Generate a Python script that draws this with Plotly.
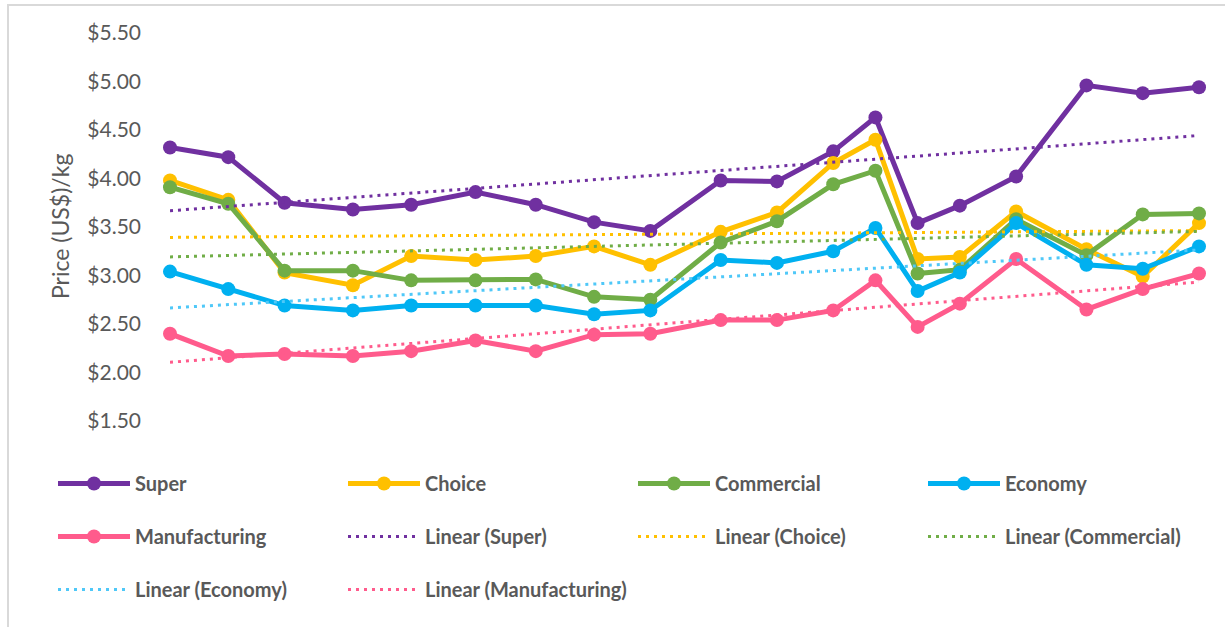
import numpy as np
import plotly.graph_objects as go

# ---- data ----
day_index = [0, 29, 57, 91, 120, 152, 182, 211, 239, 274, 302, 330, 351, 372, 393, 421, 456, 484, 512]
super_price = [4.32, 4.22, 3.75, 3.68, 3.73, 3.86, 3.73, 3.55, 3.46, 3.98, 3.97, 4.28, 4.63, 3.54, 3.72, 4.02, 4.96, 4.88, 4.94]
choice_price = [3.98, 3.78, 3.03, 2.90, 3.20, 3.16, 3.20, 3.30, 3.11, 3.45, 3.65, 4.16, 4.40, 3.17, 3.19, 3.66, 3.27, 2.99, 3.54]
commercial_price = [3.91, 3.74, 3.05, 3.05, 2.95, 2.95, 2.96, 2.78, 2.75, 3.34, 3.56, 3.94, 4.08, 3.02, 3.06, 3.58, 3.21, 3.63, 3.64]
economy_price = [3.04, 2.86, 2.69, 2.64, 2.69, 2.69, 2.69, 2.60, 2.64, 3.16, 3.13, 3.25, 3.49, 2.84, 3.03, 3.54, 3.11, 3.07, 3.30]
manufacturing_price = [2.40, 2.17, 2.19, 2.17, 2.22, 2.33, 2.22, 2.39, 2.40, 2.54, 2.54, 2.64, 2.95, 2.47, 2.71, 3.17, 2.65, 2.86, 3.02]
y_ticks = [1.5, 2.0, 2.5, 3.0, 3.5, 4.0, 4.5, 5.0, 5.5]
y_tick_labels = ["$1.50", "$2.00", "$2.50", "$3.00", "$3.50", "$4.00", "$4.50", "$5.00", "$5.50"]
y_title = "Price (US$)/kg"

series_names = ["Super", "Choice", "Commercial", "Economy", "Manufacturing"]
series_values = [super_price, choice_price, commercial_price, economy_price, manufacturing_price]
series_colors = ["#7030A0", "#FFC000", "#70AD47", "#00B0F0", "#FF5B8C"]
trend_colors = ["#7030A0", "#FFC000", "#70AD47", "#4FC8F8", "#FF5B8C"]

# legend column assignment (Excel legend layout, 4 columns)
legend_of = {
    "Super": "legend", "Manufacturing": "legend", "Linear (Economy)": "legend",
    "Choice": "legend2", "Linear (Super)": "legend2", "Linear (Manufacturing)": "legend2",
    "Commercial": "legend3", "Linear (Choice)": "legend3",
    "Economy": "legend4", "Linear (Commercial)": "legend4",
}

W, H = 1225, 627
L, R, T, B = 170, 26, 33, 206

fig = go.Figure()
x = np.array(day_index, dtype=float)
for name, vals, col in zip(series_names, series_values, series_colors):
    fig.add_trace(go.Scatter(
        x=day_index, y=vals, mode="lines+markers", name=name,
        line=dict(color=col, width=5), marker=dict(color=col, size=14),
        cliponaxis=False, legend=legend_of[name], legendgroup=name,
    ))
for name, vals, col in zip(series_names, series_values, trend_colors):
    slope, icpt = np.polyfit(x, np.array(vals), 1)
    xe = [day_index[0], day_index[-1]]
    tname = f"Linear ({name})"
    fig.add_trace(go.Scatter(
        x=xe, y=[float(slope * v + icpt) for v in xe], mode="lines", name=tname,
        line=dict(color=col, width=3, dash="3px,5px"),
        cliponaxis=False, legend=legend_of[tname], legendgroup=tname,
    ))

def px2paper_x(p):
    return (p - L) / (W - L - R)

def px2paper_y(p):
    return (H - B - p) / (H - T - B)

legend_font = dict(family="Lato", size=20, color="#595959", weight="bold")
col_x = [53, 343, 633, 923]
leg_common = dict(orientation="v", xref="container", yref="container",
                  xanchor="left", yanchor="top", traceorder="grouped",
                  tracegroupgap=24, itemwidth=72, font=legend_font,
                  bgcolor="rgba(0,0,0,0)", borderwidth=0)
legend_top = 464

fig.update_layout(
    width=W, height=H, autosize=False,
    margin=dict(l=L, r=R, t=T, b=B, autoexpand=False),
    paper_bgcolor="white", plot_bgcolor="white",
    showlegend=True,
    xaxis=dict(range=[day_index[0], day_index[-1]], showticklabels=False, showgrid=False,
               zeroline=False, showline=False, ticks="", automargin=False),
    yaxis=dict(range=[y_ticks[0], y_ticks[-1]], tickvals=y_ticks, ticktext=y_tick_labels,
               showgrid=False, zeroline=False, showline=False, ticks="", automargin=False,
               tickfont=dict(family="Lato", size=21, color="#595959"),
               ticklabelstandoff=28),
    annotations=[dict(text=y_title, textangle=-90, xref="paper", yref="paper",
                      x=px2paper_x(60), y=0.5, xanchor="center", yanchor="middle",
                      showarrow=False, font=dict(family="Lato", size=23, color="#595959"))],
    legend=dict(x=col_x[0] / W, y=1 - legend_top / H, **leg_common),
    legend2=dict(x=col_x[1] / W, y=1 - legend_top / H, **leg_common),
    legend3=dict(x=col_x[2] / W, y=1 - legend_top / H, **leg_common),
    legend4=dict(x=col_x[3] / W, y=1 - legend_top / H, **leg_common),
    shapes=[dict(type="path", xref="paper", yref="paper",
                 path=f"M {px2paper_x(8):.5f} {px2paper_y(H):.5f} L {px2paper_x(8):.5f} {px2paper_y(5):.5f} L {px2paper_x(W):.5f} {px2paper_y(5):.5f}",
                 line=dict(color="#D9D9D9", width=2))],
)

fig.write_html("out.html")
